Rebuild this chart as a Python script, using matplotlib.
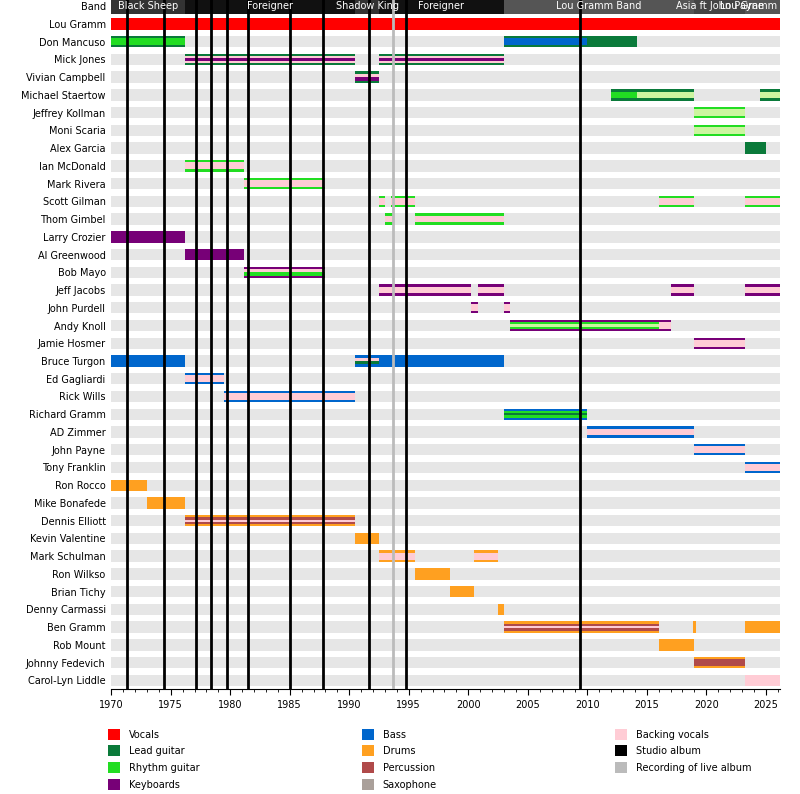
import matplotlib.pyplot as plt
from matplotlib.patches import Rectangle

C = {'voc': '#ff0000', 'lead': '#0a7a3a', 'rhy': '#22dd22', 'key': '#770077',
     'bass': '#0066cc', 'drums': '#ffa020', 'perc': '#b04a4a', 'sax': '#aaa09a',
     'back': '#ffccd5', 'pale': '#ccf5a0'}

END = 2026.2

# member: list of (start, end, main role, stripe roles)
members = [
    ('Lou Gramm', [(1970, END, 'voc', [])]),
    ('Don Mancuso', [(1970, 1976.2, 'lead', ['rhy']), (2003, 2010, 'lead', ['bass']), (2010, 2014.2, 'lead', [])]),
    ('Mick Jones', [(1976.2, 1990.5, 'lead', ['back', 'key', 'back']), (1992.5, 2003, 'lead', ['back', 'key', 'back'])]),
    ('Vivian Campbell', [(1990.5, 1992.5, 'lead', ['back', 'key'])]),
    ('Michael Staertow', [(2012, 2014.2, 'lead', ['rhy']), (2014.2, 2019, 'lead', ['pale']), (2024.5, END, 'lead', ['pale'])]),
    ('Jeffrey Kollman', [(2019, 2023.3, 'rhy', ['pale'])]),
    ('Moni Scaria', [(2019, 2023.3, 'rhy', ['pale'])]),
    ('Alex Garcia', [(2023.3, 2025, 'lead', [])]),
    ('Ian McDonald', [(1976.2, 1981.2, 'rhy', ['back'])]),
    ('Mark Rivera', [(1981.2, 1988, 'rhy', ['back'])]),
    ('Scott Gilman', [(1992.5, 1993, 'rhy', ['back']), (1993.5, 1995.5, 'rhy', ['back']),
                      (2016, 2019, 'rhy', ['back']), (2023.3, END, 'rhy', ['back'])]),
    ('Thom Gimbel', [(1993, 1993.7, 'rhy', ['back']), (1995.5, 2003, 'rhy', ['back'])]),
    ('Larry Crozier', [(1970, 1976.2, 'key', [])]),
    ('Al Greenwood', [(1976.2, 1981.2, 'key', [])]),
    ('Bob Mayo', [(1981.2, 1988, 'key', ['back', 'rhy'])]),
    ('Jeff Jacobs', [(1992.5, 2000.2, 'key', ['back']), (2000.8, 2003, 'key', ['back']),
                     (2017, 2019, 'key', ['back']), (2023.3, END, 'key', ['back'])]),
    ('John Purdell', [(2000.2, 2000.8, 'key', ['back']), (2003, 2003.5, 'key', ['back'])]),
    ('Andy Knoll', [(2003.5, 2016, 'key', ['rhy', 'pale', 'rhy']), (2016, 2017, 'key', ['back'])]),
    ('Jamie Hosmer', [(2019, 2023.3, 'key', ['back'])]),
    ('Bruce Turgon', [(1970, 1976.2, 'bass', []), (1990.5, 1992.5, 'bass', ['back', 'lead']), (1992.5, 2003, 'bass', [])]),
    ('Ed Gagliardi', [(1976.2, 1979.5, 'bass', ['back'])]),
    ('Rick Wills', [(1979.5, 1990.5, 'bass', ['back'])]),
    ('Richard Gramm', [(2003, 2010, 'bass', ['rhy', 'lead', 'rhy'])]),
    ('AD Zimmer', [(2010, 2019, 'bass', ['back'])]),
    ('John Payne', [(2019, 2023.3, 'bass', ['back'])]),
    ('Tony Franklin', [(2023.3, END, 'bass', ['back'])]),
    ('Ron Rocco', [(1970, 1973, 'drums', [])]),
    ('Mike Bonafede', [(1973, 1976.2, 'drums', [])]),
    ('Dennis Elliott', [(1976.2, 1990.5, 'drums', ['perc', 'back', 'perc'])]),
    ('Kevin Valentine', [(1990.5, 1992.5, 'drums', [])]),
    ('Mark Schulman', [(1992.5, 1995.5, 'drums', ['back']), (2000.5, 2002.5, 'drums', ['back'])]),
    ('Ron Wilkso', [(1995.5, 1998.5, 'drums', [])]),
    ('Brian Tichy', [(1998.5, 2000.5, 'drums', [])]),
    ('Denny Carmassi', [(2002.5, 2003, 'drums', [])]),
    ('Ben Gramm', [(2003, 2016, 'drums', ['perc', 'back', 'perc']), (2018.9, 2019.1, 'drums', []), (2023.3, END, 'drums', [])]),
    ('Rob Mount', [(2016, 2019, 'drums', [])]),
    ('Johnny Fedevich', [(2019, 2023.3, 'drums', ['perc'])]),
    ('Carol-Lyn Liddle', [(2023.3, END, 'back', [])]),
]

bands = [('Black Sheep', 1970, 1976.2, '#333333'), ('Foreigner', 1976.2, 1990.5, '#111111'),
         ('Shadow King', 1990.5, 1992.5, '#333333'), ('Foreigner', 1992.5, 2003, '#111111'),
         ('Lou Gramm Band', 2003, 2019, '#555555'), ('Asia ft John Payne', 2019, 2023.3, '#444444'),
         ('Lou Gramm Band', 2023.3, END, '#555555')]

studio_albums = [1971.35, 1974.4, 1977.1, 1978.4, 1979.7, 1981.5, 1985.0, 1987.8, 1991.7, 1994.8, 2009.4]
live_albums = [1993.7]

legend_items = [('Vocals', C['voc']), ('Lead guitar', C['lead']), ('Rhythm guitar', C['rhy']),
                ('Keyboards', C['key']), ('Bass', C['bass']), ('Drums', C['drums']),
                ('Percussion', C['perc']), ('Saxophone', C['sax']), ('Backing vocals', C['back']),
                ('Studio album', 'black'), ('Recording of live album', '#bbbbbb')]

fig = plt.figure(figsize=(8, 7.94), dpi=100)
ax = fig.add_axes([0.139, 0.132, 0.836, 0.868])
H = 0.64

labels = ['Band'] + [m[0] for m in members]
n = len(labels)
for i in range(1, n):
    ax.add_patch(Rectangle((1970, i - H / 2), END - 1970, H, color='#e6e6e6', lw=0, zorder=0))

for name, s, e, col in bands:
    ax.add_patch(Rectangle((s, -H / 2 - 0.1), e - s, H + 0.2, color=col, lw=0, zorder=1))
    ax.text((s + e) / 2, 0, name, color='white', fontsize=7, va='center', ha='center',
            zorder=5, clip_on=True)

for i, (name, segs) in enumerate(members, start=1):
    for s, e, main, stripes in segs:
        ax.add_patch(Rectangle((s, i - H / 2), e - s, H, color=C[main], lw=0, zorder=2))
        k = len(stripes)
        if k:
            tot = H * 0.6
            sh = tot / k
            for j, r in enumerate(stripes):
                y0 = i - tot / 2 + j * sh
                ax.add_patch(Rectangle((s, y0), e - s, sh, color=C[r], lw=0, zorder=3))

for x in studio_albums:
    ax.axvline(x, color='black', lw=2, zorder=4)
for x in live_albums:
    ax.axvline(x, color='#bbbbbb', lw=2, zorder=4)

ax.set_xlim(1970, END)
ax.set_ylim(n - 0.5, -0.35)
ax.set_yticks(range(n))
ax.set_yticklabels(labels, fontsize=7)
ax.tick_params(axis='y', length=0, pad=4)
ax.set_xticks(range(1970, 2026, 5))
ax.set_xticks(range(1970, 2027), minor=True)
ax.tick_params(axis='x', labelsize=7, length=4)
ax.tick_params(axis='x', which='minor', length=2)
for sp in ['top', 'right', 'left']:
    ax.spines[sp].set_visible(False)

cols_x = [108 / 800, 362 / 800, 615 / 800]
rows_y = [1 - 735 / 794, 1 - 751 / 794, 1 - 768 / 794, 1 - 785 / 794]
for idx, (lab, col) in enumerate(legend_items):
    c, r = idx // 4, idx % 4
    fig.add_artist(Rectangle((cols_x[c], rows_y[r] - 0.006), 0.015, 0.014, color=col,
                             transform=fig.transFigure, lw=0))
    fig.text(cols_x[c] + 0.026, rows_y[r], lab, fontsize=7, va='center')

fig.savefig('out.png', dpi=100)
